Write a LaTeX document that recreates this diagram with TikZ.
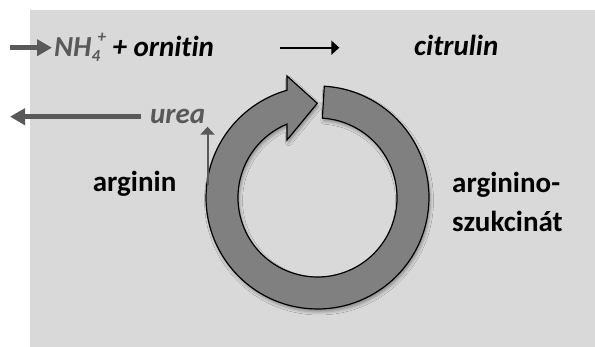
\documentclass[tikz,border=0pt]{standalone}
\usepackage{fontspec}
\setmainfont[Ligatures={NoCommon}]{Carlito}
\usetikzlibrary{arrows.meta,calc,shadows.blur}

\definecolor{panel}{HTML}{D9D9D9}
\definecolor{darkgray}{HTML}{595959}
\definecolor{ringgray}{HTML}{808080}

\newcommand{\smallidx}[1]{{\fontsize{17}{17}\selectfont #1}}

\tikzset{
  label/.style={inner sep=0pt, anchor=base west, font=\fontsize{29}{35}\selectfont\bfseries},
  toplabel/.style={label, font=\fontsize{29}{35}\selectfont\bfseries\itshape},
  fatarrow/.style={draw=darkgray, line width=5pt,
    -{Triangle[length=15pt,width=16pt]}},
  thinarrow/.style={draw=darkgray, line width=2pt,
    -{Triangle[length=8pt,width=14pt]}},
  blackarrow/.style={draw=black, line width=2.3pt,
    -{Triangle[length=8pt,width=14pt]}},
  cycle ring/.style={fill=ringgray, draw=black, line width=1.2pt,
    blur shadow={shadow xshift=1.5pt, shadow yshift=-3pt,
      shadow blur radius=3pt, shadow opacity=35}},
}

\begin{document}
\begin{tikzpicture}[x=1pt,y=1pt]
  \useasboundingbox (0,0) rectangle (595,347);
  % panel behind the scheme
  \fill[panel] (30,0) rectangle (595,337);

  % cycle ring with its arrowhead at the top
  \coordinate (c) at (317.5,149.5);
  \path[cycle ring]
    ($(c)+(86.5:111.5)$) arc[start angle=86.5, end angle=-254.1, radius=111.5]
    -- (287,271) -- (317.3,243.7) -- (287,207)
    -- ($(c)+(112.6:79.5)$) arc[start angle=112.6, end angle=446.5, radius=79.5]
    -- cycle;

  % labels
  \node[toplabel] (nh) at (54,290)
    {\textcolor{darkgray}{NH\rlap{\raisebox{-5pt}{\smallidx{4}}}\hspace{6pt}\raisebox{14pt}{\smallidx{+}}} + ornitin};
  \node[toplabel] (cit) at (414,291) {citrulin};
  \node[toplabel, text=darkgray] (urea) at (150,223.5) {urea};
  \node[label] (arg) at (92.7,155) {arginin};
  \node[label] (as1) at (452,154.3) {arginino-};
  \node[label] (as2) at (452,115.3) {szukcinát};

  % connectors
  \coordinate (inA) at (10,299.3);
  \coordinate (inB) at (52,299.3);
  \draw[fatarrow] (inA) -- (inB);

  \coordinate (stepA) at (280,299.3);
  \coordinate (stepB) at (339.3,299.3);
  \draw[blackarrow] (stepA) -- (stepB);

  \coordinate (outA) at (141,230.3);
  \coordinate (outB) at (10,230.3);
  \draw[fatarrow] (outA) -- (outB);

  \coordinate (upA) at (207.5,162);
  \coordinate (upB) at (207.5,220.3);
  \draw[thinarrow] (upA) -- (upB);
\end{tikzpicture}
\end{document}
